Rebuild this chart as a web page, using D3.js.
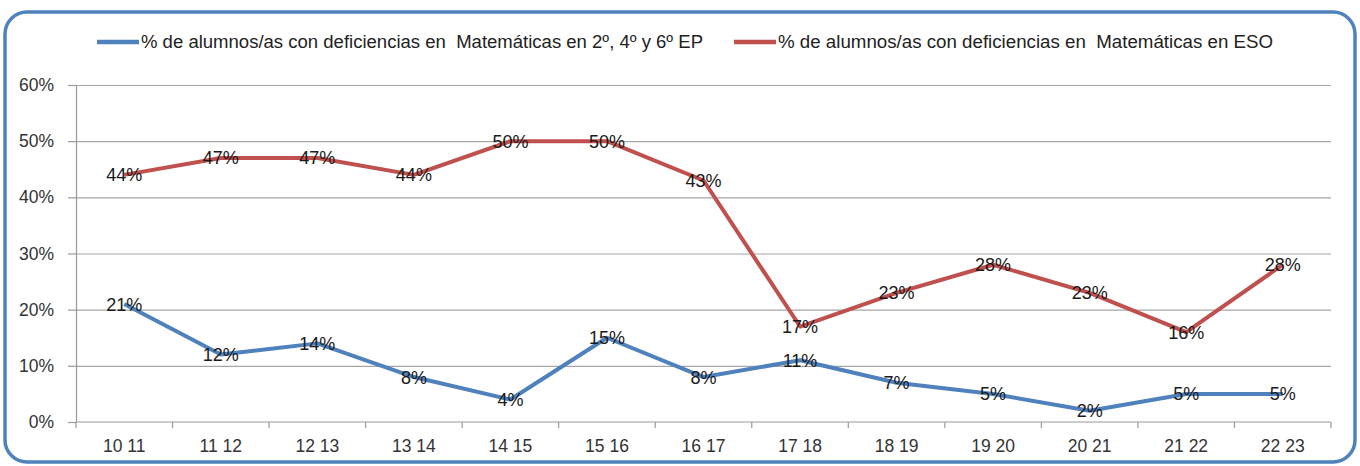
<!DOCTYPE html>
<meta charset="utf-8">
<style>
body { margin: 0; background: #fff; }
text { font-family: "Liberation Sans", Arial, sans-serif; }
.grid line { stroke: #a6a6a6; stroke-width: 1.2px; }
.grid path { display: none; }
.axis path, .axis line { stroke: #9a9a9a; stroke-width: 1.2px; }
.axis text { fill: #333; font-size: 17.5px; }
.line { fill: none; stroke-width: 4px; stroke-linejoin: round; }
.lbl { fill: #1a1a1a; font-size: 18px; }
.legtxt { white-space: pre; fill: #222; font-size: 17.5px; }
</style>
<svg width="1360" height="466"></svg>
<script src="https://cdn.jsdelivr.net/npm/d3@7"></script>
<script>
var cursos = ["10 11", "11 12", "12 13", "13 14", "14 15", "15 16", "16 17", "17 18", "18 19", "19 20", "20 21", "21 22", "22 23"];
var primaria = [0.21, 0.12, 0.14, 0.08, 0.04, 0.15, 0.08, 0.11, 0.07, 0.05, 0.02, 0.05, 0.05];
var eso = [0.44, 0.47, 0.47, 0.44, 0.50, 0.50, 0.43, 0.17, 0.23, 0.28, 0.23, 0.16, 0.28];
var yTicks = [0, 0.1, 0.2, 0.3, 0.4, 0.5, 0.6];
var nombres = ["% de alumnos/as con deficiencias en  Matemáticas en 2º, 4º y 6º EP",
               "% de alumnos/as con deficiencias en  Matemáticas en ESO"];
var colores = ["#4f81bd", "#c0504d"];

var svg = d3.select("svg");
var plotL = 76, plotR = 1331, plotT = 85, plotB = 422;

// marco redondeado
svg.append("rect")
    .attr("x", 5).attr("y", 12)
    .attr("width", 1350).attr("height", 450)
    .attr("rx", 22)
    .style("fill", "#fff")
    .style("stroke", "#4f81bd")
    .style("stroke-width", 3.5);

var x = d3.scaleBand().domain(cursos).range([plotL, plotR]).padding(0),
    y = d3.scaleLinear().domain([0, 0.6]).range([plotB, plotT]);

var g = svg.append("g");

g.append("g")
    .attr("class", "grid")
    .attr("transform", "translate(" + plotL + ",0)")
    .call(d3.axisLeft(y).tickValues(yTicks.slice(1)).tickSize(-(plotR - plotL)).tickFormat(""));

g.append("g")
    .attr("class", "axis")
    .attr("transform", "translate(" + plotL + ",0)")
    .call(d3.axisLeft(y).tickValues(yTicks).tickFormat(d3.format(".0%")).tickSizeInner(8).tickSizeOuter(0).tickPadding(14));

var xAxis = g.append("g")
    .attr("class", "axis")
    .attr("transform", "translate(0," + plotB + ")")
    .call(d3.axisBottom(x).tickSize(0).tickPadding(18));
xAxis.select(".domain").remove();
xAxis.append("line")
    .attr("x1", plotL).attr("x2", plotR);

// marcas entre categorías
xAxis.selectAll(".sep")
    .data(cursos.map(function(c) { return x(c); }).concat([x(cursos[cursos.length - 1]) + x.bandwidth()]))
  .enter().append("line")
    .attr("class", "sep")
    .attr("x1", function(d) { return d; })
    .attr("x2", function(d) { return d; })
    .attr("y1", 0).attr("y2", 6);

var line = d3.line()
    .x(function(d, i) { return x(cursos[i]) + x.bandwidth() / 2; })
    .y(function(d) { return y(d); });

[primaria, eso].forEach(function(serie, k) {
  g.append("path")
      .datum(serie)
      .attr("class", "line")
      .style("stroke", colores[k])
      .attr("d", line);
});

[primaria, eso].forEach(function(serie) {
  g.selectAll(null)
      .data(serie)
    .enter().append("text")
      .attr("class", "lbl")
      .attr("x", function(d, i) { return x(cursos[i]) + x.bandwidth() / 2; })
      .attr("y", function(d) { return y(d); })
      .attr("dy", "0.36em")
      .attr("text-anchor", "middle")
      .text(function(d) { return Math.round(d * 100) + "%"; });
});

// leyenda
var leg = svg.append("g");
var legX = [97, 734];
var legW = [562, 495];
nombres.forEach(function(n, k) {
  leg.append("line")
      .attr("x1", legX[k]).attr("x2", legX[k] + 42)
      .attr("y1", 42).attr("y2", 42)
      .style("stroke", colores[k])
      .style("stroke-width", 4.5);
  leg.append("text")
      .attr("class", "legtxt")
      .attr("x", legX[k] + 44)
      .attr("y", 42)
      .attr("dy", "0.35em")
      .attr("textLength", legW[k])
      .attr("lengthAdjust", "spacingAndGlyphs")
      .text(n);
});
</script>
